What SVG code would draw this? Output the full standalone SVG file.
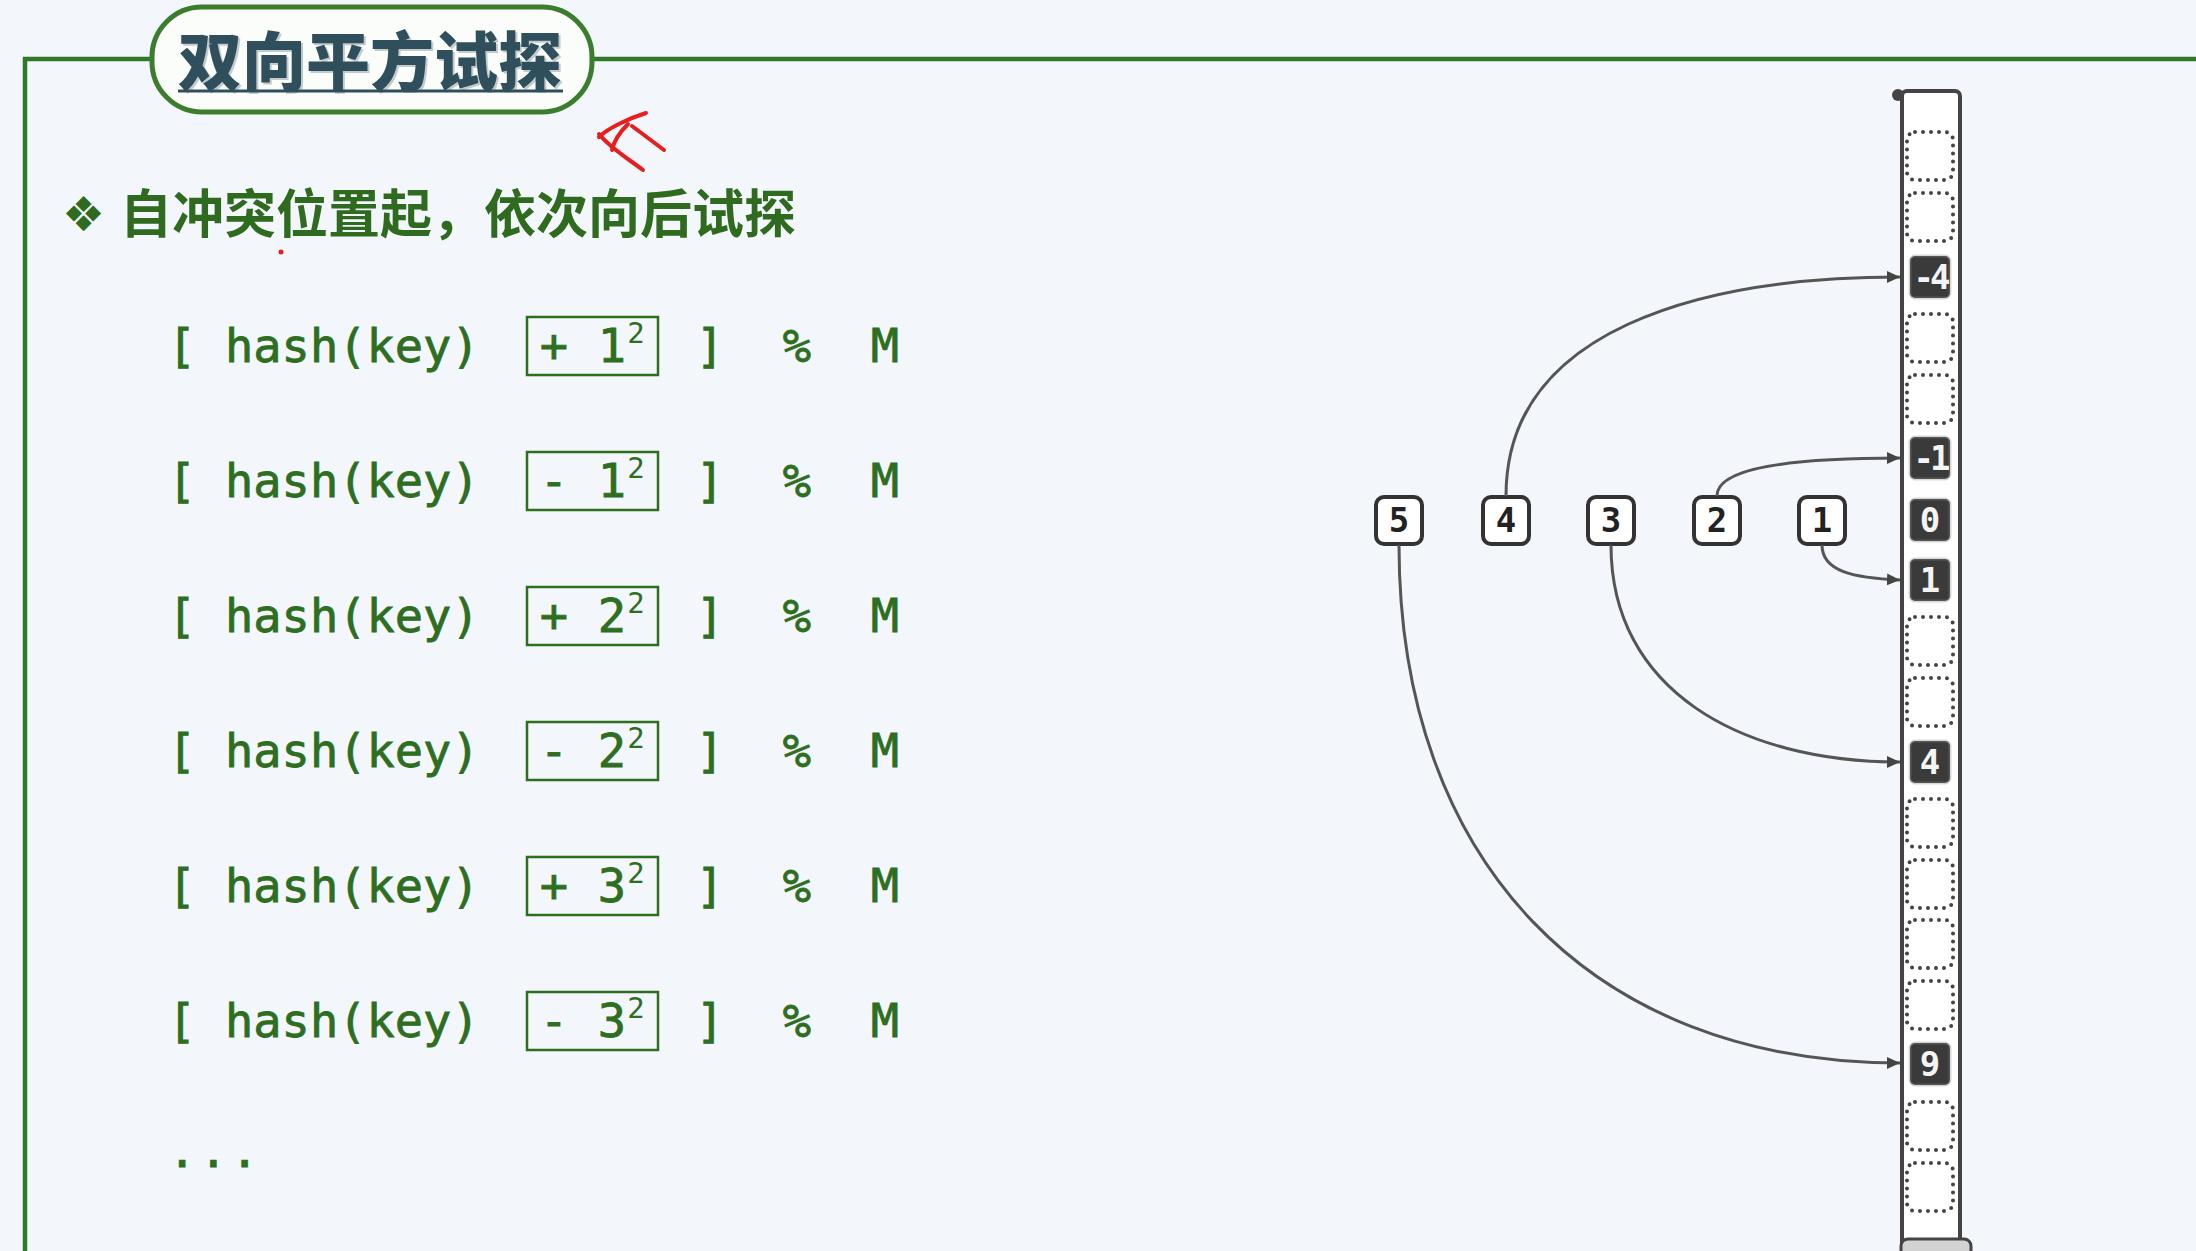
<svg xmlns="http://www.w3.org/2000/svg" width="2196" height="1251" viewBox="0 0 2196 1251">
<style>
.f{font-family:"DejaVu Sans Mono","Liberation Mono",monospace;font-size:47px;fill:#2d6e1f;stroke:#2d6e1f;stroke-width:0.8}
.fm{text-anchor:middle}
.sup{font-family:"DejaVu Sans Mono","Liberation Mono",monospace;font-size:29px;fill:#2d6e1f;text-anchor:middle}
.box{fill:none;stroke:#2d6e1f;stroke-width:2.5}
.node rect{fill:#ffffff;stroke:#333333;stroke-width:4}
.node text{font-family:"DejaVu Sans Mono",monospace;font-weight:bold;font-size:34px;fill:#222;text-anchor:middle}
.dot{fill:none;stroke:#444;stroke-width:4;stroke-dasharray:0 8;stroke-linecap:round}
.fill rect{fill:#3a3a3a;stroke:#8a8a8a;stroke-opacity:0.35;stroke-width:3}
.fill text{font-family:"DejaVu Sans Mono",monospace;font-weight:bold;font-size:34px;fill:#f4f4f4;text-anchor:middle}
.conn path{fill:none;stroke:#555;stroke-width:3}
.red{fill:none;stroke:#e61e1e;stroke-width:4;stroke-linecap:round;stroke-linejoin:round}
</style>
<defs>
<marker id="ah" markerUnits="userSpaceOnUse" markerWidth="14" markerHeight="12" refX="13" refY="6" orient="auto">
<path d="M0,0 L13,6 L0,12 z" fill="#444"/>
</marker>
</defs>
<rect x="0" y="0" width="2196" height="1251" fill="#f3f6fa"/>

<g id="frame">
<path d="M25,1251 V59 H2196" fill="none" stroke="#2e7a2a" stroke-width="4.5"/>
</g>

<g id="title">
<rect x="152" y="7" width="440" height="105" rx="50" fill="#fbfdfb" stroke="#3b7d2c" stroke-width="5"/>
<text x="180" y="87" font-family="'Noto Sans CJK SC',sans-serif" font-weight="900" font-size="64" fill="#c4cbce">双向平方试探</text>
<text x="178" y="85" font-family="'Noto Sans CJK SC',sans-serif" font-weight="900" font-size="64" fill="#2f4f5d">双向平方试探</text>
<line x1="178" y1="91" x2="563" y2="91" stroke="#2f4f5d" stroke-width="3"/>
</g>

<g id="annotation">
<path class="red" d="M646,113 C630,118 608,128 599,137"/>
<path class="red" d="M599,134 C610,148 630,160 643,170"/>
<path class="red" d="M628,124 C622,130 614,140 612,150"/>
<path class="red" d="M632,126 L664,150"/>
<circle cx="281" cy="252" r="2.5" fill="#e61e1e"/>
</g>

<g id="subtitle">
<text x="62" y="231" font-family="'DejaVu Sans',sans-serif" font-size="48" fill="#2e6b1f">❖</text>
<text x="120" y="233" font-family="'Noto Sans CJK SC',sans-serif" font-weight="bold" font-size="52" fill="#2e6b1f">自冲突位置起，依次向后试探</text>
</g>

<g id="formula1">
<text class="f fm" x="182" y="362">[</text><text class="f" x="225" y="362">hash(key)</text>
<rect class="box" x="527" y="317" width="131" height="58"/>
<text class="f fm" x="554" y="362">+</text><text class="f fm" x="612" y="362">1</text><text class="sup" x="636" y="343">2</text>
<text class="f fm" x="710" y="362">]</text><text class="f fm" x="797" y="362">%</text><text class="f fm" x="885" y="362">M</text>
</g>
<g id="formula2">
<text class="f fm" x="182" y="497">[</text><text class="f" x="225" y="497">hash(key)</text>
<rect class="box" x="527" y="452" width="131" height="58"/>
<text class="f fm" x="554" y="497">-</text><text class="f fm" x="612" y="497">1</text><text class="sup" x="636" y="478">2</text>
<text class="f fm" x="710" y="497">]</text><text class="f fm" x="797" y="497">%</text><text class="f fm" x="885" y="497">M</text>
</g>
<g id="formula3">
<text class="f fm" x="182" y="632">[</text><text class="f" x="225" y="632">hash(key)</text>
<rect class="box" x="527" y="587" width="131" height="58"/>
<text class="f fm" x="554" y="632">+</text><text class="f fm" x="612" y="632">2</text><text class="sup" x="636" y="613">2</text>
<text class="f fm" x="710" y="632">]</text><text class="f fm" x="797" y="632">%</text><text class="f fm" x="885" y="632">M</text>
</g>
<g id="formula4">
<text class="f fm" x="182" y="767">[</text><text class="f" x="225" y="767">hash(key)</text>
<rect class="box" x="527" y="722" width="131" height="58"/>
<text class="f fm" x="554" y="767">-</text><text class="f fm" x="612" y="767">2</text><text class="sup" x="636" y="748">2</text>
<text class="f fm" x="710" y="767">]</text><text class="f fm" x="797" y="767">%</text><text class="f fm" x="885" y="767">M</text>
</g>
<g id="formula5">
<text class="f fm" x="182" y="902">[</text><text class="f" x="225" y="902">hash(key)</text>
<rect class="box" x="527" y="857" width="131" height="58"/>
<text class="f fm" x="554" y="902">+</text><text class="f fm" x="612" y="902">3</text><text class="sup" x="636" y="883">2</text>
<text class="f fm" x="710" y="902">]</text><text class="f fm" x="797" y="902">%</text><text class="f fm" x="885" y="902">M</text>
</g>
<g id="formula6">
<text class="f fm" x="182" y="1037">[</text><text class="f" x="225" y="1037">hash(key)</text>
<rect class="box" x="527" y="992" width="131" height="58"/>
<text class="f fm" x="554" y="1037">-</text><text class="f fm" x="612" y="1037">3</text><text class="sup" x="636" y="1018">2</text>
<text class="f fm" x="710" y="1037">]</text><text class="f fm" x="797" y="1037">%</text><text class="f fm" x="885" y="1037">M</text>
</g>
<g id="ellipsis">
<text class="f" x="168" y="1167" letter-spacing="3">...</text>
</g>

<g id="column">
<rect x="1902" y="91" width="58" height="1170" rx="5" fill="#ffffff" stroke="#444" stroke-width="4"/>
<circle cx="1898" cy="95" r="6" fill="#444"/>
<rect x="1901" y="1239" width="70" height="18" rx="7" fill="#d2d2d2" stroke="#444" stroke-width="3"/>
<g id="cells-empty">
<rect class="dot" x="1907" y="132" width="46" height="48" rx="8"/>
<rect class="dot" x="1907" y="193" width="46" height="48" rx="8"/>
<rect class="dot" x="1907" y="314" width="46" height="48" rx="8"/>
<rect class="dot" x="1907" y="375" width="46" height="48" rx="8"/>
<rect class="dot" x="1907" y="617" width="46" height="48" rx="8"/>
<rect class="dot" x="1907" y="678" width="46" height="48" rx="8"/>
<rect class="dot" x="1907" y="799" width="46" height="48" rx="8"/>
<rect class="dot" x="1907" y="860" width="46" height="48" rx="8"/>
<rect class="dot" x="1907" y="920" width="46" height="48" rx="8"/>
<rect class="dot" x="1907" y="981" width="46" height="48" rx="8"/>
<rect class="dot" x="1907" y="1102" width="46" height="48" rx="8"/>
<rect class="dot" x="1907" y="1163" width="46" height="48" rx="8"/>
</g>
<g id="cell-m4" class="fill"><rect x="1910" y="256" width="40" height="42" rx="5"/><text x="1930" y="289" letter-spacing="-4">-4</text></g>
<g id="cell-m1" class="fill"><rect x="1910" y="437" width="40" height="42" rx="5"/><text x="1930" y="470" letter-spacing="-4">-1</text></g>
<g id="cell-0" class="fill"><rect x="1910" y="499" width="40" height="42" rx="5"/><text x="1930" y="532">0</text></g>
<g id="cell-1" class="fill"><rect x="1910" y="559" width="40" height="42" rx="5"/><text x="1930" y="592">1</text></g>
<g id="cell-4" class="fill"><rect x="1910" y="741" width="40" height="42" rx="5"/><text x="1930" y="774">4</text></g>
<g id="cell-9" class="fill"><rect x="1910" y="1043" width="40" height="42" rx="5"/><text x="1930" y="1076">9</text></g>
</g>

<g id="node5" class="node"><rect x="1376" y="497" width="46" height="47" rx="8"/><text x="1399" y="532">5</text></g>
<g id="node4" class="node"><rect x="1483" y="497" width="46" height="47" rx="8"/><text x="1506" y="532">4</text></g>
<g id="node3" class="node"><rect x="1588" y="497" width="46" height="47" rx="8"/><text x="1611" y="532">3</text></g>
<g id="node2" class="node"><rect x="1694" y="497" width="46" height="47" rx="8"/><text x="1717" y="532">2</text></g>
<g id="node1" class="node"><rect x="1799" y="497" width="46" height="47" rx="8"/><text x="1822" y="532">1</text></g>

<g id="connectors" class="conn">
<path d="M1822,545 C1822,572 1855,578 1900,580" marker-end="url(#ah)"/>
<path d="M1717,496 C1717,468 1790,458 1900,458" marker-end="url(#ah)"/>
<path d="M1611,545 C1611,690 1740,762 1900,762" marker-end="url(#ah)"/>
<path d="M1506,496 C1506,330 1700,277 1900,277" marker-end="url(#ah)"/>
<path d="M1399,545 C1399,860 1590,1063 1900,1063" marker-end="url(#ah)"/>
</g>
</svg>
